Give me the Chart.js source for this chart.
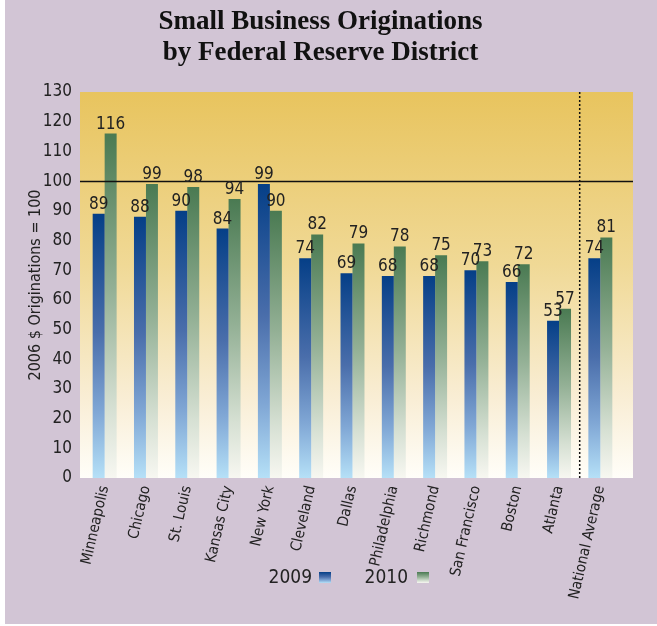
<!DOCTYPE html>
<html>
<head>
<meta charset="utf-8">
<script src="https://cdn.jsdelivr.net/npm/chart.js@4.4.0/dist/chart.umd.min.js"></script>
<style>
  html, body { margin: 0; padding: 0; background: #ffffff; }
  #wrap { position: absolute; left: 0; top: 0; width: 657px; height: 626px; }
</style>
</head>
<body>
<div id="wrap"><canvas id="c" width="657" height="626"></canvas></div>
<script>
const categories = ["Minneapolis", "Chicago", "St. Louis", "Kansas City", "New York", "Cleveland", "Dallas", "Philadelphia", "Richmond", "San Francisco", "Boston", "Atlanta", "National Average"];
const values2009 = [89, 88, 90, 84, 99, 74, 69, 68, 68, 70, 66, 53, 74];
const values2010 = [116, 99, 98, 94, 90, 82, 79, 78, 75, 73, 72, 57, 81];
const seriesNames = ["2009", "2010"];
const yTicks = [0, 10, 20, 30, 40, 50, 60, 70, 80, 90, 100, 110, 120, 130];
const referenceValue = 100;

const NARROW = "'Liberation Sans Narrow', 'DejaVu Sans Condensed', 'Arial Narrow', sans-serif";
const BLUE_STOPS = [[0, '#053f87'], [0.45, '#4a6eab'], [0.75, '#80a7d5'], [1, '#b5e0f7']];
const GREEN_STOPS = [[0, '#4a7a52'], [0.45, '#93b095'], [0.8, '#d6e0d3'], [1, '#f7f7f1']];

function barGradient(stops) {
  return function(ctx) {
    const chart = ctx.chart;
    const area = chart.chartArea;
    if (!area || ctx.type !== 'data') return stops[0][1];
    const y = chart.scales.y;
    const top = y.getPixelForValue(ctx.raw);
    const bottom = y.getPixelForValue(0);
    if (!isFinite(top) || Math.abs(bottom - top) < 1) return stops[0][1];
    const g = chart.ctx.createLinearGradient(0, top, 0, bottom);
    stops.forEach(s => g.addColorStop(s[0], s[1]));
    return g;
  };
}

const backgroundPlugin = {
  id: 'bg',
  beforeDraw(chart) {
    const c = chart.ctx, a = chart.chartArea;
    c.save();
    c.fillStyle = '#ffffff';
    c.fillRect(0, 0, chart.width, chart.height);
    c.fillStyle = '#d2c5d5';
    c.fillRect(5, 0, chart.width - 5, chart.height - 2);
    const g = c.createLinearGradient(0, a.top, 0, a.bottom);
    g.addColorStop(0, '#e8c45e');
    g.addColorStop(0.45, '#f0d996');
    g.addColorStop(0.8, '#f9eed6');
    g.addColorStop(1, '#fffef9');
    c.fillStyle = g;
    c.fillRect(a.left - 4, a.top, a.right - a.left + 16, a.bottom - a.top);
    c.restore();
  },
  afterDatasetsDraw(chart) {
    const c = chart.ctx, a = chart.chartArea;
    const y = chart.scales.y, x = chart.scales.x;
    c.save();
    const yr = Math.round(y.getPixelForValue(referenceValue)) + 0.5;
    c.strokeStyle = '#111';
    c.lineWidth = 1.5;
    c.beginPath();
    c.moveTo(a.left - 4, yr);
    c.lineTo(a.right + 12, yr);
    c.stroke();
    const n = categories.length;
    const xs = (x.getPixelForValue(n - 2) + x.getPixelForValue(n - 1)) / 2;
    c.setLineDash([2, 2]);
    c.lineWidth = 1.5;
    c.beginPath();
    c.moveTo(xs, a.top);
    c.lineTo(xs, a.bottom);
    c.stroke();
    c.setLineDash([]);
    c.fillStyle = '#222';
    c.font = '17px ' + NARROW;
    c.textAlign = 'center';
    c.textBaseline = 'bottom';
    chart.data.datasets.forEach((ds, di) => {
      const meta = chart.getDatasetMeta(di);
      meta.data.forEach((el, i) => {
        c.fillText(String(ds.data[i]), el.x, el.y - 1);
      });
    });
    c.restore();
  },
  afterDraw(chart) {
    const c = chart.ctx;
    c.save();
    c.font = '19px ' + NARROW;
    c.fillStyle = '#222';
    c.textBaseline = 'middle';
    c.textAlign = 'right';
    const items = [
      { label: seriesNames[0], textRight: 312, box: 319, stops: BLUE_STOPS },
      { label: seriesNames[1], textRight: 408, box: 417, stops: GREEN_STOPS }
    ];
    items.forEach(it => {
      c.fillText(it.label, it.textRight, 578);
      const g = c.createLinearGradient(0, 572, 0, 583);
      it.stops.forEach(s => g.addColorStop(s[0], s[1]));
      c.fillStyle = g;
      c.fillRect(it.box, 572, 12, 11);
      c.fillStyle = '#222';
    });
    c.restore();
  }
};

new Chart(document.getElementById('c'), {
  type: 'bar',
  data: {
    labels: categories,
    datasets: [
      { label: seriesNames[0], data: values2009, backgroundColor: barGradient(BLUE_STOPS), borderWidth: 0 },
      { label: seriesNames[1], data: values2010, backgroundColor: barGradient(GREEN_STOPS), borderWidth: 0 }
    ]
  },
  options: {
    responsive: false,
    animation: false,
    devicePixelRatio: 1,
    layout: { padding: { left: 20, right: 36, top: 0, bottom: 0 } },
    datasets: { bar: { categoryPercentage: 0.58, barPercentage: 1.0 } },
    plugins: {
      legend: { display: false },
      tooltip: { enabled: false },
      title: {
        display: true,
        text: ['Small Business Originations', 'by Federal Reserve District'],
        color: '#111',
        font: { family: "'Liberation Serif', 'DejaVu Serif', serif", size: 27, weight: 'bold', lineHeight: 1.13 },
        padding: { top: 7, bottom: 24 }
      }
    },
    scales: {
      x: {
        grid: { display: false, drawTicks: false },
        border: { display: false },
        ticks: {
          color: '#222',
          font: { family: NARROW, size: 15 },
          minRotation: 77,
          maxRotation: 77,
          autoSkip: false,
          padding: 6
        },
        afterFit(scale) { scale.height = 148; }
      },
      y: {
        min: 0,
        max: 130,
        afterBuildTicks(scale) { scale.ticks = yTicks.map(v => ({ value: v })); },
        grid: { display: false, drawTicks: false },
        border: { display: false },
        ticks: {
          color: '#222',
          font: { family: NARROW, size: 17 },
          padding: 12
        },
        title: {
          display: true,
          text: '2006 $ Originations = 100',
          color: '#222',
          font: { family: NARROW, size: 16 },
          padding: { top: 6, bottom: 0 }
        },
        afterFit(scale) { scale.width = 64; }
      }
    }
  },
  plugins: [backgroundPlugin]
});
</script>
</body>
</html>
